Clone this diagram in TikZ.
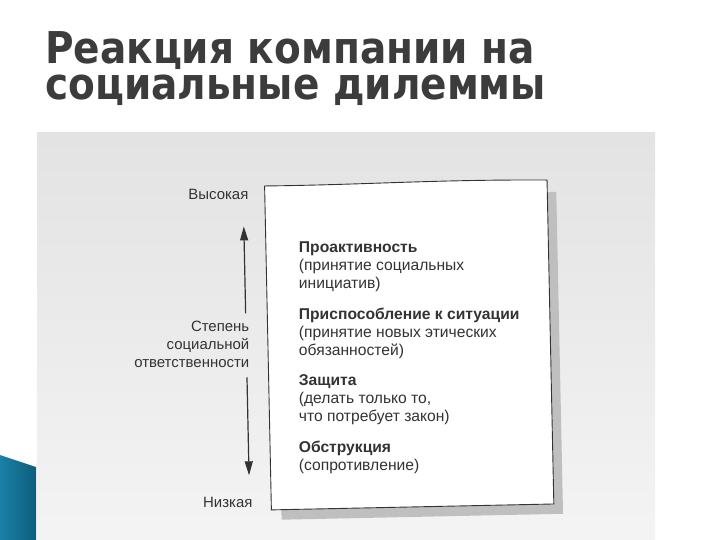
\documentclass[tikz,border=0pt]{standalone}
\usepackage{fontspec}
\setmainfont{Liberation Sans}
\newfontfamily\titlefont[FakeStretch=0.89]{DejaVu Sans}
\usetikzlibrary{positioning,arrows.meta}

\definecolor{scanink}{HTML}{333333}
\definecolor{titleink}{HTML}{3C3C3C}
\definecolor{tealbar}{HTML}{1A80A6}
\definecolor{tealdark}{HTML}{0C5E7D}

\tikzset{
  heading/.style={anchor=base west, inner sep=0pt, text=titleink, align=left,
    font=\titlefont\bfseries\fontsize{44}{37}\selectfont},
  level/.style={anchor=north west, inner sep=0pt, align=left, text=scanink,
    font=\fontsize{15.7}{18}\selectfont},
  scalelabel/.style={inner sep=0pt, text=scanink, font=\fontsize{15}{18}\selectfont},
  axis/.style={draw=scanink, line width=1.2bp, -{Triangle[length=14bp,width=8bp]}},
}

\begin{document}
\begin{tikzpicture}[x=1bp,y=-1bp]
  \useasboundingbox (0,0) rectangle (720,540);
  \fill[white] (0,0) rectangle (720,540);

  % title (base = last line)
  \node (title) [heading] at (45,100) {Реакция компании на\\социальные дилеммы};

  % scanned page and side bar
  \shade[top color=gray!22, bottom color=gray!9] (37,133) rectangle (655,540);
  \shade[left color=tealbar, right color=tealdark]
    (0,455) -- (36,467) -- (36,540) -- (0,540) -- cycle;

  \begin{scope}[rotate around={1.2:(408,347)}]
    % card with shadow
    \fill[gray!50] (550.5,195) -- (559.5,195) -- (559.5,517) -- (278,517)
      -- (278,507) -- (550.5,507) -- cycle;
    \filldraw[fill=white, draw=scanink, line width=0.9bp]
      (268,183) .. controls (370,184) and (440,180) .. (550.5,183)
      -- (550.5,507) -- (268,507) -- cycle;

    % levels
    \node (proact) [level] at (301,239)
      {\textbf{Проактивность}\\(принятие социальных\\инициатив)};
    \node (adapt) [level, below=16bp of proact.south west, anchor=north west]
      {\textbf{Приспособление к ситуации}\\(принятие новых этических\\обязанностей)};
    \node (defend) [level, below=16bp of adapt.south west, anchor=north west]
      {\textbf{Защита}\\(делать только то,\\что потребует закон)};
    \node (obstruct) [level, below=16bp of defend.south west, anchor=north west]
      {\textbf{Обструкция}\\(сопротивление)};

    % scale
    \node (high)  [scalelabel, anchor=base] at (221.5,196) {Высокая};
    \node (low)   [scalelabel, anchor=base] at (224.5,504) {Низкая};
    \node (scale) [scalelabel, anchor=north east, align=right] at (250,318)
      {Степень\\социальной\\ответственности};

    \coordinate (top)    at (246.4,223);
    \coordinate (bottom) at (246.4,472);
    \coordinate (upper)  at (246.4,310);
    \coordinate (lower)  at (246.4,374);
    \draw [axis] (upper) -- (top);
    \draw [axis] (lower) -- (bottom);
  \end{scope}
\end{tikzpicture}
\end{document}
